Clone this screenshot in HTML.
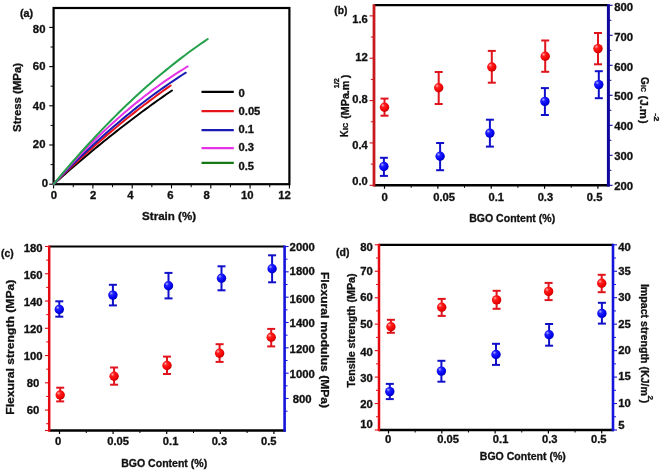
<!DOCTYPE html>
<html><head><meta charset="utf-8">
<style>
html,body{margin:0;padding:0;background:#fff;}
body{width:660px;height:470px;overflow:hidden;}
svg{display:block;will-change:transform;}
text{font-family:"Liberation Sans",sans-serif;font-weight:bold;stroke:#111;stroke-width:0.3px;}
</style></head>
<body>
<svg width="660" height="470" viewBox="0 0 660 470">
<defs>
<radialGradient id="gr" cx="0.38" cy="0.35" r="0.65" fx="0.32" fy="0.3">
<stop offset="0" stop-color="#ffb0b0"/><stop offset="0.3" stop-color="#ff2020"/><stop offset="0.8" stop-color="#f00000"/><stop offset="1" stop-color="#c00000"/>
</radialGradient>
<radialGradient id="gb" cx="0.38" cy="0.35" r="0.65" fx="0.32" fy="0.3">
<stop offset="0" stop-color="#b0b0ff"/><stop offset="0.3" stop-color="#2020ff"/><stop offset="0.8" stop-color="#0000f0"/><stop offset="1" stop-color="#0000b0"/>
</radialGradient>
</defs>
<rect width="660" height="470" fill="#fff"/>
<rect x="53.6" y="8.0" width="235.80" height="176.20" fill="none" stroke="#000" stroke-width="2.2"/>
<line x1="53.60" y1="184.20" x2="53.60" y2="188.40" stroke="#000" stroke-width="1.1"/>
<line x1="73.25" y1="184.20" x2="73.25" y2="187.20" stroke="#000" stroke-width="1.0"/>
<line x1="92.90" y1="184.20" x2="92.90" y2="188.40" stroke="#000" stroke-width="1.1"/>
<line x1="112.55" y1="184.20" x2="112.55" y2="187.20" stroke="#000" stroke-width="1.0"/>
<line x1="132.20" y1="184.20" x2="132.20" y2="188.40" stroke="#000" stroke-width="1.1"/>
<line x1="151.85" y1="184.20" x2="151.85" y2="187.20" stroke="#000" stroke-width="1.0"/>
<line x1="171.50" y1="184.20" x2="171.50" y2="188.40" stroke="#000" stroke-width="1.1"/>
<line x1="191.15" y1="184.20" x2="191.15" y2="187.20" stroke="#000" stroke-width="1.0"/>
<line x1="210.80" y1="184.20" x2="210.80" y2="188.40" stroke="#000" stroke-width="1.1"/>
<line x1="230.45" y1="184.20" x2="230.45" y2="187.20" stroke="#000" stroke-width="1.0"/>
<line x1="250.10" y1="184.20" x2="250.10" y2="188.40" stroke="#000" stroke-width="1.1"/>
<line x1="269.75" y1="184.20" x2="269.75" y2="187.20" stroke="#000" stroke-width="1.0"/>
<line x1="289.40" y1="184.20" x2="289.40" y2="188.40" stroke="#000" stroke-width="1.1"/>
<line x1="49.20" y1="184.20" x2="53.60" y2="184.20" stroke="#000" stroke-width="1.1"/>
<line x1="50.60" y1="164.60" x2="53.60" y2="164.60" stroke="#000" stroke-width="1.0"/>
<line x1="49.20" y1="145.00" x2="53.60" y2="145.00" stroke="#000" stroke-width="1.1"/>
<line x1="50.60" y1="125.40" x2="53.60" y2="125.40" stroke="#000" stroke-width="1.0"/>
<line x1="49.20" y1="105.80" x2="53.60" y2="105.80" stroke="#000" stroke-width="1.1"/>
<line x1="50.60" y1="86.20" x2="53.60" y2="86.20" stroke="#000" stroke-width="1.0"/>
<line x1="49.20" y1="66.60" x2="53.60" y2="66.60" stroke="#000" stroke-width="1.1"/>
<line x1="50.60" y1="47.00" x2="53.60" y2="47.00" stroke="#000" stroke-width="1.0"/>
<line x1="49.20" y1="27.40" x2="53.60" y2="27.40" stroke="#000" stroke-width="1.1"/>
<text x="50.65" y="199.15" font-size="10.2" text-anchor="start" fill="#111" textLength="6.3" lengthAdjust="spacingAndGlyphs">0</text>
<text x="90.05" y="199.15" font-size="10.2" text-anchor="start" fill="#111" textLength="6.3" lengthAdjust="spacingAndGlyphs">2</text>
<text x="127.15" y="199.15" font-size="10.2" text-anchor="start" fill="#111" textLength="6.3" lengthAdjust="spacingAndGlyphs">4</text>
<text x="167.15" y="199.15" font-size="10.2" text-anchor="start" fill="#111" textLength="6.3" lengthAdjust="spacingAndGlyphs">6</text>
<text x="203.55" y="199.15" font-size="10.2" text-anchor="start" fill="#111" textLength="6.3" lengthAdjust="spacingAndGlyphs">8</text>
<text x="240.95" y="199.15" font-size="10.2" text-anchor="start" fill="#111" textLength="12.6" lengthAdjust="spacingAndGlyphs">10</text>
<text x="278.15" y="199.15" font-size="10.2" text-anchor="start" fill="#111" textLength="12.6" lengthAdjust="spacingAndGlyphs">12</text>
<text x="45.45" y="32.75" font-size="10.2" text-anchor="end" fill="#111" textLength="12.6" lengthAdjust="spacingAndGlyphs">80</text>
<text x="45.45" y="70.05" font-size="10.2" text-anchor="end" fill="#111" textLength="12.6" lengthAdjust="spacingAndGlyphs">60</text>
<text x="45.45" y="110.05" font-size="10.2" text-anchor="end" fill="#111" textLength="12.6" lengthAdjust="spacingAndGlyphs">40</text>
<text x="45.45" y="147.55" font-size="10.2" text-anchor="end" fill="#111" textLength="12.6" lengthAdjust="spacingAndGlyphs">20</text>
<text x="47.95" y="186.65" font-size="10.2" text-anchor="end" fill="#111" textLength="6.3" lengthAdjust="spacingAndGlyphs">0</text>
<text x="20.00" y="16.80" font-size="10.5" text-anchor="start" fill="#111" textLength="13.2" lengthAdjust="spacingAndGlyphs">(a)</text>
<text transform="translate(21.30,97.40) rotate(-90)" x="0" y="0" font-size="11" text-anchor="middle" fill="#111" textLength="69" lengthAdjust="spacingAndGlyphs">Stress (MPa)</text>
<text x="169.10" y="219.60" font-size="11" text-anchor="middle" fill="#111" textLength="54" lengthAdjust="spacingAndGlyphs">Strain (%)</text>
<polyline points="53.60,184.20 56.56,181.55 59.52,178.92 62.48,176.31 65.44,173.71 68.40,171.12 71.36,168.55 74.32,166.00 77.28,163.46 80.24,160.94 83.20,158.43 86.16,155.94 89.12,153.46 92.08,151.00 95.04,148.56 98.00,146.13 100.96,143.72 103.92,141.32 106.88,138.94 109.84,136.57 112.80,134.22 115.76,131.88 118.72,129.56 121.67,127.26 124.63,124.97 127.59,122.69 130.55,120.44 133.51,118.19 136.47,115.97 139.43,113.75 142.39,111.56 145.35,109.38 148.31,107.21 151.27,105.06 154.23,102.93 157.19,100.81 160.15,98.71 163.11,96.62 166.07,94.55 169.03,92.49 171.99,90.45" fill="none" stroke="#000000" stroke-width="2.0" stroke-linejoin="round" stroke-linecap="round"/>
<polyline points="53.60,184.20 56.53,181.32 59.45,178.46 62.38,175.63 65.31,172.81 68.24,170.02 71.16,167.25 74.09,164.49 77.02,161.76 79.95,159.05 82.87,156.37 85.80,153.70 88.73,151.05 91.66,148.43 94.58,145.83 97.51,143.24 100.44,140.68 103.37,138.14 106.29,135.62 109.22,133.12 112.15,130.65 115.07,128.19 118.00,125.76 120.93,123.34 123.86,120.95 126.78,118.58 129.71,116.23 132.64,113.90 135.57,111.60 138.49,109.31 141.42,107.04 144.35,104.80 147.28,102.58 150.20,100.37 153.13,98.19 156.06,96.03 158.98,93.90 161.91,91.78 164.84,89.68 167.77,87.61 170.69,85.55" fill="none" stroke="#e8141c" stroke-width="2.0" stroke-linejoin="round" stroke-linecap="round"/>
<polyline points="53.60,184.20 56.91,180.72 60.21,177.28 63.52,173.88 66.82,170.51 70.13,167.17 73.43,163.87 76.74,160.61 80.04,157.38 83.35,154.19 86.65,151.03 89.96,147.91 93.26,144.82 96.57,141.77 99.87,138.75 103.18,135.77 106.48,132.82 109.79,129.91 113.09,127.03 116.40,124.19 119.70,121.39 123.01,118.62 126.31,115.88 129.62,113.18 132.92,110.52 136.23,107.89 139.53,105.29 142.84,102.74 146.14,100.21 149.45,97.72 152.75,95.27 156.06,92.85 159.36,90.47 162.67,88.13 165.97,85.81 169.28,83.54 172.58,81.30 175.89,79.09 179.19,76.92 182.50,74.78 185.81,72.68" fill="none" stroke="#1a1ab4" stroke-width="2.0" stroke-linejoin="round" stroke-linecap="round"/>
<polyline points="53.60,184.20 56.95,180.35 60.30,176.54 63.66,172.78 67.01,169.07 70.36,165.40 73.71,161.78 77.07,158.20 80.42,154.68 83.77,151.20 87.12,147.76 90.48,144.38 93.83,141.04 97.18,137.74 100.53,134.50 103.88,131.29 107.24,128.14 110.59,125.03 113.94,121.97 117.29,118.96 120.65,115.99 124.00,113.07 127.35,110.20 130.70,107.37 134.05,104.59 137.41,101.86 140.76,99.17 144.11,96.53 147.46,93.94 150.82,91.39 154.17,88.89 157.52,86.44 160.87,84.03 164.23,81.67 167.58,79.36 170.93,77.09 174.28,74.87 177.63,72.70 180.99,70.57 184.34,68.49 187.69,66.45" fill="none" stroke="#e632e6" stroke-width="2.0" stroke-linejoin="round" stroke-linecap="round"/>
<polyline points="53.60,184.20 57.45,179.55 61.31,174.96 65.16,170.42 69.02,165.93 72.87,161.49 76.73,157.11 80.58,152.78 84.44,148.49 88.29,144.26 92.15,140.09 96.00,135.96 99.86,131.89 103.71,127.87 107.57,123.90 111.42,119.98 115.28,116.12 119.13,112.30 122.99,108.54 126.84,104.84 130.70,101.18 134.55,97.57 138.41,94.02 142.26,90.52 146.12,87.07 149.97,83.67 153.83,80.33 157.68,77.04 161.54,73.80 165.39,70.61 169.25,67.47 173.10,64.39 176.95,61.35 180.81,58.37 184.66,55.45 188.52,52.57 192.37,49.75 196.23,46.97 200.08,44.25 203.94,41.58 207.79,38.97" fill="none" stroke="#22a04a" stroke-width="2.0" stroke-linejoin="round" stroke-linecap="round"/>
<line x1="201.50" y1="91.80" x2="233.80" y2="91.80" stroke="#000000" stroke-width="2.2"/>
<text x="238.55" y="97.20" font-size="10.2" text-anchor="start" fill="#111" textLength="6.3" lengthAdjust="spacingAndGlyphs">0</text>
<line x1="201.50" y1="111.10" x2="233.80" y2="111.10" stroke="#e8141c" stroke-width="2.2"/>
<text x="238.55" y="115.40" font-size="10.2" text-anchor="start" fill="#111" textLength="21.8" lengthAdjust="spacingAndGlyphs">0.05</text>
<line x1="201.50" y1="130.20" x2="233.80" y2="130.20" stroke="#1a1ab4" stroke-width="2.2"/>
<text x="238.55" y="133.40" font-size="10.2" text-anchor="start" fill="#111" textLength="15.5" lengthAdjust="spacingAndGlyphs">0.1</text>
<line x1="201.50" y1="148.20" x2="233.80" y2="148.20" stroke="#e632e6" stroke-width="2.2"/>
<text x="238.55" y="151.20" font-size="10.2" text-anchor="start" fill="#111" textLength="15.5" lengthAdjust="spacingAndGlyphs">0.3</text>
<line x1="201.50" y1="162.80" x2="233.80" y2="162.80" stroke="#157a15" stroke-width="2.2"/>
<text x="238.55" y="169.60" font-size="10.2" text-anchor="start" fill="#111" textLength="15.5" lengthAdjust="spacingAndGlyphs">0.5</text>
<line x1="374.00" y1="5.20" x2="608.40" y2="5.20" stroke="#000" stroke-width="2.2"/>
<line x1="374.00" y1="185.30" x2="609.40" y2="185.30" stroke="#000" stroke-width="2.6"/>
<line x1="369.60" y1="185.30" x2="374.00" y2="185.30" stroke="#c81a1e" stroke-width="1.1"/>
<line x1="370.80" y1="164.12" x2="374.00" y2="164.12" stroke="#c81a1e" stroke-width="1.0"/>
<line x1="369.60" y1="142.94" x2="374.00" y2="142.94" stroke="#c81a1e" stroke-width="1.1"/>
<line x1="370.80" y1="121.76" x2="374.00" y2="121.76" stroke="#c81a1e" stroke-width="1.0"/>
<line x1="369.60" y1="100.58" x2="374.00" y2="100.58" stroke="#c81a1e" stroke-width="1.1"/>
<line x1="370.80" y1="79.40" x2="374.00" y2="79.40" stroke="#c81a1e" stroke-width="1.0"/>
<line x1="369.60" y1="58.22" x2="374.00" y2="58.22" stroke="#c81a1e" stroke-width="1.1"/>
<line x1="370.80" y1="37.04" x2="374.00" y2="37.04" stroke="#c81a1e" stroke-width="1.0"/>
<line x1="369.60" y1="15.86" x2="374.00" y2="15.86" stroke="#c81a1e" stroke-width="1.1"/>
<line x1="608.40" y1="185.30" x2="612.60" y2="185.30" stroke="#10089c" stroke-width="1.1"/>
<line x1="608.40" y1="170.30" x2="611.40" y2="170.30" stroke="#10089c" stroke-width="1.0"/>
<line x1="608.40" y1="155.30" x2="612.60" y2="155.30" stroke="#10089c" stroke-width="1.1"/>
<line x1="608.40" y1="140.30" x2="611.40" y2="140.30" stroke="#10089c" stroke-width="1.0"/>
<line x1="608.40" y1="125.30" x2="612.60" y2="125.30" stroke="#10089c" stroke-width="1.1"/>
<line x1="608.40" y1="110.30" x2="611.40" y2="110.30" stroke="#10089c" stroke-width="1.0"/>
<line x1="608.40" y1="95.30" x2="612.60" y2="95.30" stroke="#10089c" stroke-width="1.1"/>
<line x1="608.40" y1="80.30" x2="611.40" y2="80.30" stroke="#10089c" stroke-width="1.0"/>
<line x1="608.40" y1="65.30" x2="612.60" y2="65.30" stroke="#10089c" stroke-width="1.1"/>
<line x1="608.40" y1="50.30" x2="611.40" y2="50.30" stroke="#10089c" stroke-width="1.0"/>
<line x1="608.40" y1="35.30" x2="612.60" y2="35.30" stroke="#10089c" stroke-width="1.1"/>
<line x1="608.40" y1="20.30" x2="611.40" y2="20.30" stroke="#10089c" stroke-width="1.0"/>
<line x1="608.40" y1="5.30" x2="612.60" y2="5.30" stroke="#10089c" stroke-width="1.1"/>
<line x1="384.50" y1="185.30" x2="384.50" y2="188.80" stroke="#000" stroke-width="1.2"/>
<line x1="411.18" y1="185.30" x2="411.18" y2="187.80" stroke="#000" stroke-width="1.0"/>
<line x1="437.85" y1="185.30" x2="437.85" y2="188.80" stroke="#000" stroke-width="1.2"/>
<line x1="464.53" y1="185.30" x2="464.53" y2="187.80" stroke="#000" stroke-width="1.0"/>
<line x1="491.20" y1="185.30" x2="491.20" y2="188.80" stroke="#000" stroke-width="1.2"/>
<line x1="517.88" y1="185.30" x2="517.88" y2="187.80" stroke="#000" stroke-width="1.0"/>
<line x1="544.55" y1="185.30" x2="544.55" y2="188.80" stroke="#000" stroke-width="1.2"/>
<line x1="571.22" y1="185.30" x2="571.22" y2="187.80" stroke="#000" stroke-width="1.0"/>
<line x1="597.90" y1="185.30" x2="597.90" y2="188.80" stroke="#000" stroke-width="1.2"/>
<line x1="374.00" y1="4.20" x2="374.00" y2="186.60" stroke="#c81a1e" stroke-width="2.8"/>
<line x1="608.40" y1="4.20" x2="608.40" y2="186.60" stroke="#10089c" stroke-width="3.0"/>
<text x="367.75" y="184.90" font-size="10.2" text-anchor="end" fill="#111" textLength="15.5" lengthAdjust="spacingAndGlyphs">0.0</text>
<text x="367.75" y="149.30" font-size="10.2" text-anchor="end" fill="#111" textLength="15.5" lengthAdjust="spacingAndGlyphs">0.4</text>
<text x="367.75" y="102.85" font-size="10.2" text-anchor="end" fill="#111" textLength="15.5" lengthAdjust="spacingAndGlyphs">0.8</text>
<text x="367.75" y="61.10" font-size="10.2" text-anchor="end" fill="#111" textLength="12.6" lengthAdjust="spacingAndGlyphs">12</text>
<text x="367.75" y="22.55" font-size="10.2" text-anchor="end" fill="#111" textLength="15.5" lengthAdjust="spacingAndGlyphs">1.6</text>
<text x="614.15" y="10.55" font-size="10.2" text-anchor="start" fill="#111" textLength="18.9" lengthAdjust="spacingAndGlyphs">800</text>
<text x="614.15" y="40.85" font-size="10.2" text-anchor="start" fill="#111" textLength="18.9" lengthAdjust="spacingAndGlyphs">700</text>
<text x="614.15" y="71.15" font-size="10.2" text-anchor="start" fill="#111" textLength="18.9" lengthAdjust="spacingAndGlyphs">600</text>
<text x="614.15" y="99.85" font-size="10.2" text-anchor="start" fill="#111" textLength="18.9" lengthAdjust="spacingAndGlyphs">500</text>
<text x="614.15" y="129.95" font-size="10.2" text-anchor="start" fill="#111" textLength="18.9" lengthAdjust="spacingAndGlyphs">400</text>
<text x="614.15" y="160.15" font-size="10.2" text-anchor="start" fill="#111" textLength="18.9" lengthAdjust="spacingAndGlyphs">300</text>
<text x="614.15" y="189.65" font-size="10.2" text-anchor="start" fill="#111" textLength="18.9" lengthAdjust="spacingAndGlyphs">200</text>
<text x="381.45" y="201.25" font-size="10.2" text-anchor="start" fill="#111" textLength="6.3" lengthAdjust="spacingAndGlyphs">0</text>
<text x="433.25" y="201.25" font-size="10.2" text-anchor="start" fill="#111" textLength="21.8" lengthAdjust="spacingAndGlyphs">0.05</text>
<text x="488.45" y="201.25" font-size="10.2" text-anchor="start" fill="#111" textLength="15.5" lengthAdjust="spacingAndGlyphs">0.1</text>
<text x="537.65" y="201.25" font-size="10.2" text-anchor="start" fill="#111" textLength="15.5" lengthAdjust="spacingAndGlyphs">0.3</text>
<text x="586.85" y="201.25" font-size="10.2" text-anchor="start" fill="#111" textLength="15.5" lengthAdjust="spacingAndGlyphs">0.5</text>
<text x="334.20" y="13.60" font-size="10.5" text-anchor="start" fill="#111" textLength="13.2" lengthAdjust="spacingAndGlyphs">(b)</text>
<text x="512.20" y="221.60" font-size="10.5" text-anchor="middle" fill="#111" textLength="86" lengthAdjust="spacingAndGlyphs">BGO Content (%)</text>
<text transform="translate(347.90,137.10) rotate(-90)" x="0.00" y="0.00" font-size="10.0" fill="#111" textLength="6.6" lengthAdjust="spacingAndGlyphs">K</text>
<text transform="translate(347.90,137.10) rotate(-90)" x="7.20" y="0.00" font-size="7.4" fill="#111" textLength="7.2" lengthAdjust="spacingAndGlyphs">IC</text>
<text transform="translate(347.90,137.10) rotate(-90)" x="18.40" y="0.80" font-size="10.0" fill="#111" textLength="38.0" lengthAdjust="spacingAndGlyphs">(MPa.m</text>
<text transform="translate(347.90,137.10) rotate(-90)" x="48.80" y="-9.30" font-size="7.6" fill="#111" textLength="10.2" lengthAdjust="spacingAndGlyphs">1/2</text>
<text transform="translate(347.90,137.10) rotate(-90)" x="58.80" y="0.80" font-size="10.0" fill="#111" textLength="3.6" lengthAdjust="spacingAndGlyphs">)</text>
<text transform="translate(640.80,77.00) rotate(90)" x="0.00" y="0.00" font-size="10.0" fill="#111" textLength="7.8" lengthAdjust="spacingAndGlyphs">G</text>
<text transform="translate(640.80,77.00) rotate(90)" x="8.00" y="0.00" font-size="7.4" fill="#111" textLength="7.0" lengthAdjust="spacingAndGlyphs">IC</text>
<text transform="translate(640.80,77.00) rotate(90)" x="18.60" y="0.60" font-size="10.0" fill="#111" textLength="23.4" lengthAdjust="spacingAndGlyphs">(J.m</text>
<text transform="translate(640.80,77.00) rotate(90)" x="36.20" y="-13.00" font-size="7.6" fill="#111" textLength="8.2" lengthAdjust="spacingAndGlyphs">-2</text>
<text transform="translate(640.80,77.00) rotate(90)" x="42.90" y="0.60" font-size="10.0" fill="#111" textLength="3.6" lengthAdjust="spacingAndGlyphs">)</text>
<line x1="384.50" y1="98.60" x2="384.50" y2="115.70" stroke="#e0141c" stroke-width="2.0"/>
<line x1="380.50" y1="98.60" x2="388.50" y2="98.60" stroke="#e0141c" stroke-width="2.0"/>
<line x1="380.50" y1="115.70" x2="388.50" y2="115.70" stroke="#e0141c" stroke-width="2.0"/>
<circle cx="384.50" cy="107.20" r="4.7" fill="url(#gr)"/>
<line x1="438.70" y1="72.00" x2="438.70" y2="104.00" stroke="#e0141c" stroke-width="2.0"/>
<line x1="434.70" y1="72.00" x2="442.70" y2="72.00" stroke="#e0141c" stroke-width="2.0"/>
<line x1="434.70" y1="104.00" x2="442.70" y2="104.00" stroke="#e0141c" stroke-width="2.0"/>
<circle cx="438.70" cy="87.70" r="4.7" fill="url(#gr)"/>
<line x1="491.80" y1="50.90" x2="491.80" y2="82.70" stroke="#e0141c" stroke-width="2.0"/>
<line x1="487.80" y1="50.90" x2="495.80" y2="50.90" stroke="#e0141c" stroke-width="2.0"/>
<line x1="487.80" y1="82.70" x2="495.80" y2="82.70" stroke="#e0141c" stroke-width="2.0"/>
<circle cx="491.80" cy="67.00" r="4.7" fill="url(#gr)"/>
<line x1="545.20" y1="40.50" x2="545.20" y2="71.80" stroke="#e0141c" stroke-width="2.0"/>
<line x1="541.20" y1="40.50" x2="549.20" y2="40.50" stroke="#e0141c" stroke-width="2.0"/>
<line x1="541.20" y1="71.80" x2="549.20" y2="71.80" stroke="#e0141c" stroke-width="2.0"/>
<circle cx="545.20" cy="56.20" r="4.7" fill="url(#gr)"/>
<line x1="598.00" y1="33.00" x2="598.00" y2="64.30" stroke="#e0141c" stroke-width="2.0"/>
<line x1="594.00" y1="33.00" x2="602.00" y2="33.00" stroke="#e0141c" stroke-width="2.0"/>
<line x1="594.00" y1="64.30" x2="602.00" y2="64.30" stroke="#e0141c" stroke-width="2.0"/>
<circle cx="598.00" cy="48.60" r="4.7" fill="url(#gr)"/>
<line x1="383.90" y1="157.80" x2="383.90" y2="175.90" stroke="#1010c8" stroke-width="2.0"/>
<line x1="379.90" y1="157.80" x2="387.90" y2="157.80" stroke="#1010c8" stroke-width="2.0"/>
<line x1="379.90" y1="175.90" x2="387.90" y2="175.90" stroke="#1010c8" stroke-width="2.0"/>
<circle cx="383.90" cy="166.50" r="4.7" fill="url(#gb)"/>
<line x1="440.10" y1="143.00" x2="440.10" y2="170.20" stroke="#1010c8" stroke-width="2.0"/>
<line x1="436.10" y1="143.00" x2="444.10" y2="143.00" stroke="#1010c8" stroke-width="2.0"/>
<line x1="436.10" y1="170.20" x2="444.10" y2="170.20" stroke="#1010c8" stroke-width="2.0"/>
<circle cx="440.10" cy="156.20" r="4.7" fill="url(#gb)"/>
<line x1="489.90" y1="119.70" x2="489.90" y2="146.60" stroke="#1010c8" stroke-width="2.0"/>
<line x1="485.90" y1="119.70" x2="493.90" y2="119.70" stroke="#1010c8" stroke-width="2.0"/>
<line x1="485.90" y1="146.60" x2="493.90" y2="146.60" stroke="#1010c8" stroke-width="2.0"/>
<circle cx="489.90" cy="133.10" r="4.7" fill="url(#gb)"/>
<line x1="544.90" y1="88.10" x2="544.90" y2="115.00" stroke="#1010c8" stroke-width="2.0"/>
<line x1="540.90" y1="88.10" x2="548.90" y2="88.10" stroke="#1010c8" stroke-width="2.0"/>
<line x1="540.90" y1="115.00" x2="548.90" y2="115.00" stroke="#1010c8" stroke-width="2.0"/>
<circle cx="544.90" cy="101.40" r="4.7" fill="url(#gb)"/>
<line x1="598.80" y1="71.20" x2="598.80" y2="98.20" stroke="#1010c8" stroke-width="2.0"/>
<line x1="594.80" y1="71.20" x2="602.80" y2="71.20" stroke="#1010c8" stroke-width="2.0"/>
<line x1="594.80" y1="98.20" x2="602.80" y2="98.20" stroke="#1010c8" stroke-width="2.0"/>
<circle cx="598.80" cy="84.60" r="4.7" fill="url(#gb)"/>
<line x1="49.20" y1="246.50" x2="284.60" y2="246.50" stroke="#000" stroke-width="2.2"/>
<line x1="49.20" y1="430.50" x2="285.60" y2="430.50" stroke="#000" stroke-width="2.6"/>
<line x1="46.20" y1="423.69" x2="49.20" y2="423.69" stroke="#e30a12" stroke-width="1.0"/>
<line x1="45.00" y1="410.06" x2="49.20" y2="410.06" stroke="#e30a12" stroke-width="1.1"/>
<line x1="46.20" y1="396.43" x2="49.20" y2="396.43" stroke="#e30a12" stroke-width="1.0"/>
<line x1="45.00" y1="382.80" x2="49.20" y2="382.80" stroke="#e30a12" stroke-width="1.1"/>
<line x1="46.20" y1="369.17" x2="49.20" y2="369.17" stroke="#e30a12" stroke-width="1.0"/>
<line x1="45.00" y1="355.54" x2="49.20" y2="355.54" stroke="#e30a12" stroke-width="1.1"/>
<line x1="46.20" y1="341.91" x2="49.20" y2="341.91" stroke="#e30a12" stroke-width="1.0"/>
<line x1="45.00" y1="328.28" x2="49.20" y2="328.28" stroke="#e30a12" stroke-width="1.1"/>
<line x1="46.20" y1="314.65" x2="49.20" y2="314.65" stroke="#e30a12" stroke-width="1.0"/>
<line x1="45.00" y1="301.02" x2="49.20" y2="301.02" stroke="#e30a12" stroke-width="1.1"/>
<line x1="46.20" y1="287.39" x2="49.20" y2="287.39" stroke="#e30a12" stroke-width="1.0"/>
<line x1="45.00" y1="273.76" x2="49.20" y2="273.76" stroke="#e30a12" stroke-width="1.1"/>
<line x1="46.20" y1="260.13" x2="49.20" y2="260.13" stroke="#e30a12" stroke-width="1.0"/>
<line x1="45.00" y1="246.50" x2="49.20" y2="246.50" stroke="#e30a12" stroke-width="1.1"/>
<line x1="45.00" y1="430.50" x2="49.20" y2="430.50" stroke="#e30a12" stroke-width="1.1"/>
<line x1="284.60" y1="411.17" x2="287.60" y2="411.17" stroke="#1414dc" stroke-width="1.0"/>
<line x1="284.60" y1="398.50" x2="288.60" y2="398.50" stroke="#1414dc" stroke-width="1.1"/>
<line x1="284.60" y1="385.84" x2="287.60" y2="385.84" stroke="#1414dc" stroke-width="1.0"/>
<line x1="284.60" y1="373.17" x2="288.60" y2="373.17" stroke="#1414dc" stroke-width="1.1"/>
<line x1="284.60" y1="360.50" x2="287.60" y2="360.50" stroke="#1414dc" stroke-width="1.0"/>
<line x1="284.60" y1="347.84" x2="288.60" y2="347.84" stroke="#1414dc" stroke-width="1.1"/>
<line x1="284.60" y1="335.17" x2="287.60" y2="335.17" stroke="#1414dc" stroke-width="1.0"/>
<line x1="284.60" y1="322.50" x2="288.60" y2="322.50" stroke="#1414dc" stroke-width="1.1"/>
<line x1="284.60" y1="309.83" x2="287.60" y2="309.83" stroke="#1414dc" stroke-width="1.0"/>
<line x1="284.60" y1="297.17" x2="288.60" y2="297.17" stroke="#1414dc" stroke-width="1.1"/>
<line x1="284.60" y1="284.50" x2="287.60" y2="284.50" stroke="#1414dc" stroke-width="1.0"/>
<line x1="284.60" y1="271.83" x2="288.60" y2="271.83" stroke="#1414dc" stroke-width="1.1"/>
<line x1="284.60" y1="259.17" x2="287.60" y2="259.17" stroke="#1414dc" stroke-width="1.0"/>
<line x1="284.60" y1="246.50" x2="288.60" y2="246.50" stroke="#1414dc" stroke-width="1.1"/>
<line x1="59.50" y1="430.50" x2="59.50" y2="434.00" stroke="#000" stroke-width="1.2"/>
<line x1="86.30" y1="430.50" x2="86.30" y2="433.00" stroke="#000" stroke-width="1.0"/>
<line x1="113.10" y1="430.50" x2="113.10" y2="434.00" stroke="#000" stroke-width="1.2"/>
<line x1="139.90" y1="430.50" x2="139.90" y2="433.00" stroke="#000" stroke-width="1.0"/>
<line x1="166.70" y1="430.50" x2="166.70" y2="434.00" stroke="#000" stroke-width="1.2"/>
<line x1="193.50" y1="430.50" x2="193.50" y2="433.00" stroke="#000" stroke-width="1.0"/>
<line x1="220.30" y1="430.50" x2="220.30" y2="434.00" stroke="#000" stroke-width="1.2"/>
<line x1="247.10" y1="430.50" x2="247.10" y2="433.00" stroke="#000" stroke-width="1.0"/>
<line x1="273.90" y1="430.50" x2="273.90" y2="434.00" stroke="#000" stroke-width="1.2"/>
<line x1="49.20" y1="245.50" x2="49.20" y2="431.70" stroke="#e30a12" stroke-width="2.5"/>
<line x1="284.60" y1="245.50" x2="284.60" y2="431.70" stroke="#1414dc" stroke-width="2.6"/>
<text x="33.10" y="251.75" font-size="10.2" text-anchor="middle" fill="#111" textLength="18.9" lengthAdjust="spacingAndGlyphs">180</text>
<text x="33.10" y="278.65" font-size="10.2" text-anchor="middle" fill="#111" textLength="18.9" lengthAdjust="spacingAndGlyphs">160</text>
<text x="33.10" y="305.95" font-size="10.2" text-anchor="middle" fill="#111" textLength="18.9" lengthAdjust="spacingAndGlyphs">140</text>
<text x="33.10" y="332.75" font-size="10.2" text-anchor="middle" fill="#111" textLength="18.9" lengthAdjust="spacingAndGlyphs">120</text>
<text x="33.10" y="359.65" font-size="10.2" text-anchor="middle" fill="#111" textLength="18.9" lengthAdjust="spacingAndGlyphs">100</text>
<text x="33.10" y="387.35" font-size="10.2" text-anchor="middle" fill="#111" textLength="12.6" lengthAdjust="spacingAndGlyphs">80</text>
<text x="33.10" y="413.85" font-size="10.2" text-anchor="middle" fill="#111" textLength="12.6" lengthAdjust="spacingAndGlyphs">60</text>
<text x="302.20" y="251.15" font-size="10.2" text-anchor="middle" fill="#111" textLength="25.2" lengthAdjust="spacingAndGlyphs">2000</text>
<text x="302.20" y="274.95" font-size="10.2" text-anchor="middle" fill="#111" textLength="25.2" lengthAdjust="spacingAndGlyphs">1800</text>
<text x="302.20" y="302.65" font-size="10.2" text-anchor="middle" fill="#111" textLength="25.2" lengthAdjust="spacingAndGlyphs">1600</text>
<text x="302.20" y="326.55" font-size="10.2" text-anchor="middle" fill="#111" textLength="25.2" lengthAdjust="spacingAndGlyphs">1400</text>
<text x="302.20" y="353.05" font-size="10.2" text-anchor="middle" fill="#111" textLength="25.2" lengthAdjust="spacingAndGlyphs">1200</text>
<text x="302.20" y="377.55" font-size="10.2" text-anchor="middle" fill="#111" textLength="25.2" lengthAdjust="spacingAndGlyphs">1000</text>
<text x="302.20" y="402.55" font-size="10.2" text-anchor="middle" fill="#111" textLength="18.9" lengthAdjust="spacingAndGlyphs">800</text>
<text x="55.05" y="444.95" font-size="10.2" text-anchor="start" fill="#111" textLength="6.3" lengthAdjust="spacingAndGlyphs">0</text>
<text x="107.25" y="444.95" font-size="10.2" text-anchor="start" fill="#111" textLength="21.8" lengthAdjust="spacingAndGlyphs">0.05</text>
<text x="162.85" y="444.95" font-size="10.2" text-anchor="start" fill="#111" textLength="15.5" lengthAdjust="spacingAndGlyphs">0.1</text>
<text x="211.65" y="444.95" font-size="10.2" text-anchor="start" fill="#111" textLength="15.5" lengthAdjust="spacingAndGlyphs">0.3</text>
<text x="260.95" y="444.95" font-size="10.2" text-anchor="start" fill="#111" textLength="15.5" lengthAdjust="spacingAndGlyphs">0.5</text>
<text x="1.10" y="256.60" font-size="10.5" text-anchor="start" fill="#111" textLength="12.6" lengthAdjust="spacingAndGlyphs">(c)</text>
<text x="164.20" y="467.00" font-size="10.5" text-anchor="middle" fill="#111" textLength="86" lengthAdjust="spacingAndGlyphs">BGO Content (%)</text>
<text transform="translate(13.60,347.20) rotate(-90)" x="0" y="0" font-size="11.4" text-anchor="middle" fill="#111" textLength="135" lengthAdjust="spacingAndGlyphs">Flexural strength (MPa)</text>
<text transform="translate(320.90,340.00) rotate(90)" x="0" y="0" font-size="11.4" text-anchor="middle" fill="#111" textLength="136" lengthAdjust="spacingAndGlyphs">Flexural modulus (MPa)</text>
<line x1="60.20" y1="387.70" x2="60.20" y2="401.40" stroke="#e0141c" stroke-width="2.0"/>
<line x1="56.20" y1="387.70" x2="64.20" y2="387.70" stroke="#e0141c" stroke-width="2.0"/>
<line x1="56.20" y1="401.40" x2="64.20" y2="401.40" stroke="#e0141c" stroke-width="2.0"/>
<circle cx="60.20" cy="395.00" r="4.7" fill="url(#gr)"/>
<line x1="114.10" y1="367.50" x2="114.10" y2="384.70" stroke="#e0141c" stroke-width="2.0"/>
<line x1="110.10" y1="367.50" x2="118.10" y2="367.50" stroke="#e0141c" stroke-width="2.0"/>
<line x1="110.10" y1="384.70" x2="118.10" y2="384.70" stroke="#e0141c" stroke-width="2.0"/>
<circle cx="114.10" cy="376.20" r="4.7" fill="url(#gr)"/>
<line x1="167.00" y1="356.60" x2="167.00" y2="374.00" stroke="#e0141c" stroke-width="2.0"/>
<line x1="163.00" y1="356.60" x2="171.00" y2="356.60" stroke="#e0141c" stroke-width="2.0"/>
<line x1="163.00" y1="374.00" x2="171.00" y2="374.00" stroke="#e0141c" stroke-width="2.0"/>
<circle cx="167.00" cy="365.50" r="4.7" fill="url(#gr)"/>
<line x1="219.60" y1="344.20" x2="219.60" y2="361.90" stroke="#e0141c" stroke-width="2.0"/>
<line x1="215.60" y1="344.20" x2="223.60" y2="344.20" stroke="#e0141c" stroke-width="2.0"/>
<line x1="215.60" y1="361.90" x2="223.60" y2="361.90" stroke="#e0141c" stroke-width="2.0"/>
<circle cx="219.60" cy="353.20" r="4.7" fill="url(#gr)"/>
<line x1="271.20" y1="328.90" x2="271.20" y2="346.40" stroke="#e0141c" stroke-width="2.0"/>
<line x1="267.20" y1="328.90" x2="275.20" y2="328.90" stroke="#e0141c" stroke-width="2.0"/>
<line x1="267.20" y1="346.40" x2="275.20" y2="346.40" stroke="#e0141c" stroke-width="2.0"/>
<circle cx="271.20" cy="337.30" r="4.7" fill="url(#gr)"/>
<line x1="59.30" y1="301.30" x2="59.30" y2="316.70" stroke="#1010c8" stroke-width="2.0"/>
<line x1="55.30" y1="301.30" x2="63.30" y2="301.30" stroke="#1010c8" stroke-width="2.0"/>
<line x1="55.30" y1="316.70" x2="63.30" y2="316.70" stroke="#1010c8" stroke-width="2.0"/>
<circle cx="59.30" cy="309.40" r="4.7" fill="url(#gb)"/>
<line x1="112.90" y1="284.80" x2="112.90" y2="305.40" stroke="#1010c8" stroke-width="2.0"/>
<line x1="108.90" y1="284.80" x2="116.90" y2="284.80" stroke="#1010c8" stroke-width="2.0"/>
<line x1="108.90" y1="305.40" x2="116.90" y2="305.40" stroke="#1010c8" stroke-width="2.0"/>
<circle cx="112.90" cy="295.10" r="4.7" fill="url(#gb)"/>
<line x1="168.50" y1="272.90" x2="168.50" y2="298.40" stroke="#1010c8" stroke-width="2.0"/>
<line x1="164.50" y1="272.90" x2="172.50" y2="272.90" stroke="#1010c8" stroke-width="2.0"/>
<line x1="164.50" y1="298.40" x2="172.50" y2="298.40" stroke="#1010c8" stroke-width="2.0"/>
<circle cx="168.50" cy="285.70" r="4.7" fill="url(#gb)"/>
<line x1="221.50" y1="266.30" x2="221.50" y2="290.30" stroke="#1010c8" stroke-width="2.0"/>
<line x1="217.50" y1="266.30" x2="225.50" y2="266.30" stroke="#1010c8" stroke-width="2.0"/>
<line x1="217.50" y1="290.30" x2="225.50" y2="290.30" stroke="#1010c8" stroke-width="2.0"/>
<circle cx="221.50" cy="278.20" r="4.7" fill="url(#gb)"/>
<line x1="272.10" y1="255.30" x2="272.10" y2="282.30" stroke="#1010c8" stroke-width="2.0"/>
<line x1="268.10" y1="255.30" x2="276.10" y2="255.30" stroke="#1010c8" stroke-width="2.0"/>
<line x1="268.10" y1="282.30" x2="276.10" y2="282.30" stroke="#1010c8" stroke-width="2.0"/>
<circle cx="272.10" cy="268.70" r="4.7" fill="url(#gb)"/>
<line x1="379.00" y1="244.80" x2="613.00" y2="244.80" stroke="#000" stroke-width="2.2"/>
<line x1="379.00" y1="430.00" x2="614.00" y2="430.00" stroke="#000" stroke-width="2.6"/>
<line x1="374.80" y1="430.00" x2="379.00" y2="430.00" stroke="#e30a12" stroke-width="1.1"/>
<line x1="376.00" y1="416.77" x2="379.00" y2="416.77" stroke="#e30a12" stroke-width="1.0"/>
<line x1="374.80" y1="403.54" x2="379.00" y2="403.54" stroke="#e30a12" stroke-width="1.1"/>
<line x1="376.00" y1="390.31" x2="379.00" y2="390.31" stroke="#e30a12" stroke-width="1.0"/>
<line x1="374.80" y1="377.09" x2="379.00" y2="377.09" stroke="#e30a12" stroke-width="1.1"/>
<line x1="376.00" y1="363.86" x2="379.00" y2="363.86" stroke="#e30a12" stroke-width="1.0"/>
<line x1="374.80" y1="350.63" x2="379.00" y2="350.63" stroke="#e30a12" stroke-width="1.1"/>
<line x1="376.00" y1="337.40" x2="379.00" y2="337.40" stroke="#e30a12" stroke-width="1.0"/>
<line x1="374.80" y1="324.17" x2="379.00" y2="324.17" stroke="#e30a12" stroke-width="1.1"/>
<line x1="376.00" y1="310.94" x2="379.00" y2="310.94" stroke="#e30a12" stroke-width="1.0"/>
<line x1="374.80" y1="297.71" x2="379.00" y2="297.71" stroke="#e30a12" stroke-width="1.1"/>
<line x1="376.00" y1="284.49" x2="379.00" y2="284.49" stroke="#e30a12" stroke-width="1.0"/>
<line x1="374.80" y1="271.26" x2="379.00" y2="271.26" stroke="#e30a12" stroke-width="1.1"/>
<line x1="376.00" y1="258.03" x2="379.00" y2="258.03" stroke="#e30a12" stroke-width="1.0"/>
<line x1="374.80" y1="244.80" x2="379.00" y2="244.80" stroke="#e30a12" stroke-width="1.1"/>
<line x1="613.00" y1="430.00" x2="617.00" y2="430.00" stroke="#1414dc" stroke-width="1.1"/>
<line x1="613.00" y1="416.77" x2="616.00" y2="416.77" stroke="#1414dc" stroke-width="1.0"/>
<line x1="613.00" y1="403.54" x2="617.00" y2="403.54" stroke="#1414dc" stroke-width="1.1"/>
<line x1="613.00" y1="390.31" x2="616.00" y2="390.31" stroke="#1414dc" stroke-width="1.0"/>
<line x1="613.00" y1="377.09" x2="617.00" y2="377.09" stroke="#1414dc" stroke-width="1.1"/>
<line x1="613.00" y1="363.86" x2="616.00" y2="363.86" stroke="#1414dc" stroke-width="1.0"/>
<line x1="613.00" y1="350.63" x2="617.00" y2="350.63" stroke="#1414dc" stroke-width="1.1"/>
<line x1="613.00" y1="337.40" x2="616.00" y2="337.40" stroke="#1414dc" stroke-width="1.0"/>
<line x1="613.00" y1="324.17" x2="617.00" y2="324.17" stroke="#1414dc" stroke-width="1.1"/>
<line x1="613.00" y1="310.94" x2="616.00" y2="310.94" stroke="#1414dc" stroke-width="1.0"/>
<line x1="613.00" y1="297.71" x2="617.00" y2="297.71" stroke="#1414dc" stroke-width="1.1"/>
<line x1="613.00" y1="284.49" x2="616.00" y2="284.49" stroke="#1414dc" stroke-width="1.0"/>
<line x1="613.00" y1="271.26" x2="617.00" y2="271.26" stroke="#1414dc" stroke-width="1.1"/>
<line x1="613.00" y1="258.03" x2="616.00" y2="258.03" stroke="#1414dc" stroke-width="1.0"/>
<line x1="613.00" y1="244.80" x2="617.00" y2="244.80" stroke="#1414dc" stroke-width="1.1"/>
<line x1="388.50" y1="430.00" x2="388.50" y2="433.50" stroke="#000" stroke-width="1.2"/>
<line x1="415.15" y1="430.00" x2="415.15" y2="432.50" stroke="#000" stroke-width="1.0"/>
<line x1="441.80" y1="430.00" x2="441.80" y2="433.50" stroke="#000" stroke-width="1.2"/>
<line x1="468.45" y1="430.00" x2="468.45" y2="432.50" stroke="#000" stroke-width="1.0"/>
<line x1="495.10" y1="430.00" x2="495.10" y2="433.50" stroke="#000" stroke-width="1.2"/>
<line x1="521.75" y1="430.00" x2="521.75" y2="432.50" stroke="#000" stroke-width="1.0"/>
<line x1="548.40" y1="430.00" x2="548.40" y2="433.50" stroke="#000" stroke-width="1.2"/>
<line x1="575.05" y1="430.00" x2="575.05" y2="432.50" stroke="#000" stroke-width="1.0"/>
<line x1="601.70" y1="430.00" x2="601.70" y2="433.50" stroke="#000" stroke-width="1.2"/>
<line x1="379.00" y1="243.80" x2="379.00" y2="431.20" stroke="#e30a12" stroke-width="2.5"/>
<line x1="613.00" y1="243.80" x2="613.00" y2="431.20" stroke="#1414dc" stroke-width="2.6"/>
<text x="372.85" y="251.15" font-size="10.2" text-anchor="end" fill="#111" textLength="12.6" lengthAdjust="spacingAndGlyphs">80</text>
<text x="372.85" y="275.45" font-size="10.2" text-anchor="end" fill="#111" textLength="12.6" lengthAdjust="spacingAndGlyphs">70</text>
<text x="372.85" y="301.45" font-size="10.2" text-anchor="end" fill="#111" textLength="12.6" lengthAdjust="spacingAndGlyphs">60</text>
<text x="372.85" y="327.55" font-size="10.2" text-anchor="end" fill="#111" textLength="12.6" lengthAdjust="spacingAndGlyphs">50</text>
<text x="372.85" y="355.65" font-size="10.2" text-anchor="end" fill="#111" textLength="12.6" lengthAdjust="spacingAndGlyphs">40</text>
<text x="372.85" y="381.65" font-size="10.2" text-anchor="end" fill="#111" textLength="12.6" lengthAdjust="spacingAndGlyphs">30</text>
<text x="372.85" y="408.15" font-size="10.2" text-anchor="end" fill="#111" textLength="12.6" lengthAdjust="spacingAndGlyphs">20</text>
<text x="372.85" y="428.25" font-size="10.2" text-anchor="end" fill="#111" textLength="12.6" lengthAdjust="spacingAndGlyphs">10</text>
<text x="618.25" y="250.85" font-size="10.2" text-anchor="start" fill="#111" textLength="12.6" lengthAdjust="spacingAndGlyphs">40</text>
<text x="618.25" y="274.95" font-size="10.2" text-anchor="start" fill="#111" textLength="12.6" lengthAdjust="spacingAndGlyphs">35</text>
<text x="618.25" y="301.15" font-size="10.2" text-anchor="start" fill="#111" textLength="12.6" lengthAdjust="spacingAndGlyphs">30</text>
<text x="618.25" y="327.55" font-size="10.2" text-anchor="start" fill="#111" textLength="12.6" lengthAdjust="spacingAndGlyphs">25</text>
<text x="618.25" y="353.65" font-size="10.2" text-anchor="start" fill="#111" textLength="12.6" lengthAdjust="spacingAndGlyphs">20</text>
<text x="618.25" y="380.05" font-size="10.2" text-anchor="start" fill="#111" textLength="12.6" lengthAdjust="spacingAndGlyphs">15</text>
<text x="618.25" y="406.55" font-size="10.2" text-anchor="start" fill="#111" textLength="12.6" lengthAdjust="spacingAndGlyphs">10</text>
<text x="618.25" y="429.15" font-size="10.2" text-anchor="start" fill="#111" textLength="6.3" lengthAdjust="spacingAndGlyphs">5</text>
<text x="385.05" y="442.85" font-size="10.2" text-anchor="start" fill="#111" textLength="6.3" lengthAdjust="spacingAndGlyphs">0</text>
<text x="437.25" y="442.85" font-size="10.2" text-anchor="start" fill="#111" textLength="21.8" lengthAdjust="spacingAndGlyphs">0.05</text>
<text x="492.85" y="442.85" font-size="10.2" text-anchor="start" fill="#111" textLength="15.5" lengthAdjust="spacingAndGlyphs">0.1</text>
<text x="542.05" y="442.85" font-size="10.2" text-anchor="start" fill="#111" textLength="15.5" lengthAdjust="spacingAndGlyphs">0.3</text>
<text x="590.95" y="442.85" font-size="10.2" text-anchor="start" fill="#111" textLength="15.5" lengthAdjust="spacingAndGlyphs">0.5</text>
<text x="336.10" y="255.60" font-size="10.5" text-anchor="start" fill="#111" textLength="13.4" lengthAdjust="spacingAndGlyphs">(d)</text>
<text x="522.80" y="460.00" font-size="10.5" text-anchor="middle" fill="#111" textLength="86" lengthAdjust="spacingAndGlyphs">BGO Content (%)</text>
<text transform="translate(354.60,330.45) rotate(-90)" x="0" y="0" font-size="10.0" text-anchor="middle" fill="#111" textLength="114" lengthAdjust="spacingAndGlyphs">Tensile strength (MPa)</text>
<text transform="translate(640.60,283.90) rotate(90)" x="0.00" y="0.00" font-size="10.4" fill="#111" textLength="112.0" lengthAdjust="spacingAndGlyphs">Impact strength (KJ/m</text>
<text transform="translate(640.60,283.90) rotate(90)" x="111.60" y="-7.90" font-size="7.2" fill="#111" textLength="4.4" lengthAdjust="spacingAndGlyphs">2</text>
<text transform="translate(640.60,283.90) rotate(90)" x="115.60" y="0.00" font-size="10.4" fill="#111" textLength="3.8" lengthAdjust="spacingAndGlyphs">)</text>
<line x1="390.90" y1="319.80" x2="390.90" y2="332.80" stroke="#e0141c" stroke-width="2.0"/>
<line x1="386.90" y1="319.80" x2="394.90" y2="319.80" stroke="#e0141c" stroke-width="2.0"/>
<line x1="386.90" y1="332.80" x2="394.90" y2="332.80" stroke="#e0141c" stroke-width="2.0"/>
<circle cx="390.90" cy="326.70" r="4.7" fill="url(#gr)"/>
<line x1="441.70" y1="298.90" x2="441.70" y2="315.90" stroke="#e0141c" stroke-width="2.0"/>
<line x1="437.70" y1="298.90" x2="445.70" y2="298.90" stroke="#e0141c" stroke-width="2.0"/>
<line x1="437.70" y1="315.90" x2="445.70" y2="315.90" stroke="#e0141c" stroke-width="2.0"/>
<circle cx="441.70" cy="307.30" r="4.7" fill="url(#gr)"/>
<line x1="496.60" y1="290.80" x2="496.60" y2="308.80" stroke="#e0141c" stroke-width="2.0"/>
<line x1="492.60" y1="290.80" x2="500.60" y2="290.80" stroke="#e0141c" stroke-width="2.0"/>
<line x1="492.60" y1="308.80" x2="500.60" y2="308.80" stroke="#e0141c" stroke-width="2.0"/>
<circle cx="496.60" cy="299.90" r="4.7" fill="url(#gr)"/>
<line x1="548.60" y1="282.90" x2="548.60" y2="300.10" stroke="#e0141c" stroke-width="2.0"/>
<line x1="544.60" y1="282.90" x2="552.60" y2="282.90" stroke="#e0141c" stroke-width="2.0"/>
<line x1="544.60" y1="300.10" x2="552.60" y2="300.10" stroke="#e0141c" stroke-width="2.0"/>
<circle cx="548.60" cy="291.40" r="4.7" fill="url(#gr)"/>
<line x1="601.70" y1="274.80" x2="601.70" y2="292.20" stroke="#e0141c" stroke-width="2.0"/>
<line x1="597.70" y1="274.80" x2="605.70" y2="274.80" stroke="#e0141c" stroke-width="2.0"/>
<line x1="597.70" y1="292.20" x2="605.70" y2="292.20" stroke="#e0141c" stroke-width="2.0"/>
<circle cx="601.70" cy="283.30" r="4.7" fill="url(#gr)"/>
<line x1="389.80" y1="383.90" x2="389.80" y2="399.10" stroke="#1010c8" stroke-width="2.0"/>
<line x1="385.80" y1="383.90" x2="393.80" y2="383.90" stroke="#1010c8" stroke-width="2.0"/>
<line x1="385.80" y1="399.10" x2="393.80" y2="399.10" stroke="#1010c8" stroke-width="2.0"/>
<circle cx="389.80" cy="391.60" r="4.7" fill="url(#gb)"/>
<line x1="441.40" y1="360.80" x2="441.40" y2="381.70" stroke="#1010c8" stroke-width="2.0"/>
<line x1="437.40" y1="360.80" x2="445.40" y2="360.80" stroke="#1010c8" stroke-width="2.0"/>
<line x1="437.40" y1="381.70" x2="445.40" y2="381.70" stroke="#1010c8" stroke-width="2.0"/>
<circle cx="441.40" cy="371.10" r="4.7" fill="url(#gb)"/>
<line x1="496.00" y1="343.80" x2="496.00" y2="364.90" stroke="#1010c8" stroke-width="2.0"/>
<line x1="492.00" y1="343.80" x2="500.00" y2="343.80" stroke="#1010c8" stroke-width="2.0"/>
<line x1="492.00" y1="364.90" x2="500.00" y2="364.90" stroke="#1010c8" stroke-width="2.0"/>
<circle cx="496.00" cy="354.50" r="4.7" fill="url(#gb)"/>
<line x1="549.10" y1="324.00" x2="549.10" y2="345.70" stroke="#1010c8" stroke-width="2.0"/>
<line x1="545.10" y1="324.00" x2="553.10" y2="324.00" stroke="#1010c8" stroke-width="2.0"/>
<line x1="545.10" y1="345.70" x2="553.10" y2="345.70" stroke="#1010c8" stroke-width="2.0"/>
<circle cx="549.10" cy="334.70" r="4.7" fill="url(#gb)"/>
<line x1="601.90" y1="302.80" x2="601.90" y2="323.60" stroke="#1010c8" stroke-width="2.0"/>
<line x1="597.90" y1="302.80" x2="605.90" y2="302.80" stroke="#1010c8" stroke-width="2.0"/>
<line x1="597.90" y1="323.60" x2="605.90" y2="323.60" stroke="#1010c8" stroke-width="2.0"/>
<circle cx="601.90" cy="313.40" r="4.7" fill="url(#gb)"/>
</svg>
</body></html>
